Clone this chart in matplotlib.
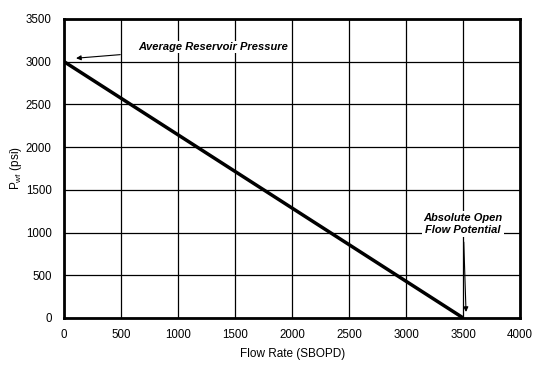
import matplotlib
matplotlib.use('Agg')
import matplotlib.pyplot as plt

# IPR straight line
rate = [0, 3500]
pwf = [3000, 0]
xticks = [0, 500, 1000, 1500, 2000, 2500, 3000, 3500, 4000]
yticks = [0, 500, 1000, 1500, 2000, 2500, 3000, 3500]

plt.rcParams['font.family'] = ['Liberation Sans', 'DejaVu Sans']

fig = plt.figure(figsize=(5.43, 3.71), dpi=100)
ax = fig.add_axes([0.118, 0.143, 0.840, 0.806])

ax.plot(rate, pwf, color='black', lw=2.5, solid_capstyle='butt', zorder=3)

ax.set_xlim(0, 4000)
ax.set_ylim(0, 3500)
ax.set_xticks(xticks)
ax.set_yticks(yticks)
ax.grid(True, color='black', lw=0.9)
ax.tick_params(length=0, labelsize=8.3)
ax.tick_params(axis='x', pad=8)
ax.tick_params(axis='y', pad=9)
for s in ax.spines.values():
    s.set_linewidth(2)

ax.set_xlabel('Flow Rate (SBOPD)', fontsize=8.5)
ax.set_ylabel(r'P$_{\mathregular{wf}}$ (psi)', fontsize=8.5)
ax.xaxis.set_label_coords(0.5, -0.100)
ax.yaxis.set_label_coords(-0.088, 0.5)

bbox = dict(facecolor='white', edgecolor='none', pad=1)
ax.annotate('Average Reservoir Pressure', xy=(105, 3040), xytext=(650, 3170),
            fontsize=8, fontweight='bold', fontstyle='italic', va='center', ha='left',
            bbox=bbox,
            arrowprops=dict(arrowstyle='-|>', color='black', lw=0.8,
                            mutation_scale=7, shrinkA=12, shrinkB=0))
ax.annotate('Absolute Open\nFlow Potential', xy=(3525, 70), xytext=(3500, 1100),
            fontsize=8, fontweight='bold', fontstyle='italic', va='center', ha='center',
            bbox=bbox, linespacing=1.3,
            arrowprops=dict(arrowstyle='-|>', color='black', lw=0.8,
                            mutation_scale=7, shrinkA=4, shrinkB=0))

fig.savefig('out.png', dpi=100)
